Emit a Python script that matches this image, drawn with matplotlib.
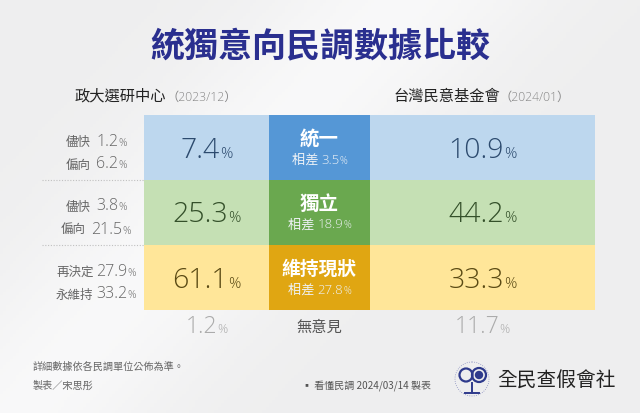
import matplotlib
matplotlib.use("Agg")
import matplotlib.pyplot as plt
from matplotlib import font_manager
import numpy as np
from matplotlib.patches import Rectangle, Circle

plt.rcParams['font.family'] = ['Noto Sans CJK TC', 'DejaVu Sans']

# ---------------- data ----------------
title = "統獨意向民調數據比較"
source_left = "政大選研中心"
date_left = "（2023/12）"
source_right = "台灣民意基金會"
date_right = "（2024/01）"
categories = ["統一", "獨立", "維持現狀"]
left_values = [7.4, 25.3, 61.1]
right_values = [10.9, 44.2, 33.3]
differences = [3.5, 18.9, 27.8]
sub_labels = [["儘快", "偏向"], ["儘快", "偏向"], ["再決定", "永維持"]]
sub_values = [[1.2, 6.2], [3.8, 21.5], [27.9, 33.2]]
no_opinion_label = "無意見"
no_opinion_left = 1.2
no_opinion_right = 11.7
footnote1 = "詳細數據依各民調單位公佈為準。"
footnote2 = "製表／宋思彤"
credit = "▪ 看懂民調 2024/03/14 製表"
org = "全民查假會社"

light_colors = ["#bdd7ee", "#c5e0b4", "#ffe699"]
dark_colors = ["#5597d6", "#6aa84f", "#e0a612"]
value_colors = ["#2c4a6e", "#34502a", "#5a4a14"]

# pick a light-weight font for the numbers if one is installed
light_font = None
light_weight = 'normal'
for fam in ['Noto Sans CJK TC', 'Noto Sans', 'Open Sans', 'Lato', 'Roboto', 'Inter']:
    for f in font_manager.fontManager.ttflist:
        w = f.weight if isinstance(f.weight, int) else font_manager.weight_dict.get(f.weight, 400)
        if f.name == fam and w in (200, 300) and f.style == 'normal':
            light_font = fam
            light_weight = w
            break
    if light_font:
        break
NUM_FAMILY = [light_font, 'Noto Sans CJK TC', 'DejaVu Sans'] if light_font else ['Noto Sans CJK TC', 'DejaVu Sans']

W, H = 640, 413
fig = plt.figure(figsize=(W / 100, H / 100), dpi=100)
ax = fig.add_axes([0, 0, 1, 1])
ax.set_xlim(0, W)
ax.set_ylim(H, 0)
ax.axis('off')

# background gradient
gx = np.linspace(0, 1, 200)
gy = np.linspace(0, 1, 130)
GX, GY = np.meshgrid(gx, gy)
bg = 0.935 + 0.04 * np.exp(-((GX - 0.45) + (GY - 0.3) * 0.6) ** 2 / 0.05)
bg = np.clip(bg, 0, 1)
ax.imshow(np.dstack([bg, bg, bg * 1.003]).clip(0, 1), extent=[0, W, H, 0], zorder=0, aspect='auto')

fig.canvas.draw()
renderer = fig.canvas.get_renderer()


def seg_text(xc, y, segments, ha='center'):
    """segments: list of (text, size, color, weight, is_number)"""
    objs = []
    widths = []
    for s, size, color, wt, num in segments:
        if num:
            t = ax.text(0, y, s, fontsize=size, color=color, va='baseline', ha='left',
                        family=NUM_FAMILY, fontweight=light_weight, zorder=5)
        else:
            t = ax.text(0, y, s, fontsize=size, color=color, va='baseline', ha='left', fontweight=wt, zorder=5)
        bb = t.get_window_extent(renderer=renderer)
        objs.append(t)
        widths.append(bb.width)
    total = sum(widths)
    if ha == 'center':
        x = xc - total / 2
    elif ha == 'right':
        x = xc - total
    else:
        x = xc
    for t, w in zip(objs, widths):
        t.set_x(x)
        x += w
    return objs


# title
ax.text(320, 46, title, fontsize=24.5, fontweight='bold', color='#2a2f8f', ha='center', va='center', zorder=5)

# source headers
seg_text(75, 101, [(source_left, 11, '#222222', 'medium', False), (date_left, 8.8, '#888888', 'normal', True)], ha='left')
seg_text(393, 101, [(source_right, 11, '#222222', 'medium', False), (date_right, 8.8, '#888888', 'normal', True)], ha='left')

# table geometry
x_edges = [144, 269, 370, 595]
top = 115
row_h = 65

for i, cat in enumerate(categories):
    y0 = top + i * row_h
    ax.add_patch(Rectangle((x_edges[0], y0), x_edges[1] - x_edges[0], row_h, color=light_colors[i], zorder=2, lw=0))
    ax.add_patch(Rectangle((x_edges[1], y0), x_edges[2] - x_edges[1], row_h, color=dark_colors[i], zorder=2, lw=0))
    ax.add_patch(Rectangle((x_edges[2], y0), x_edges[3] - x_edges[2], row_h, color=light_colors[i], zorder=2, lw=0))
    yc = y0 + row_h / 2
    # values
    seg_text((x_edges[0] + x_edges[1]) / 2, yc + 10, [(f"{left_values[i]:.1f}", 20.5, value_colors[i], 'normal', True), ("%", 11, value_colors[i], 'normal', True)])
    seg_text((x_edges[2] + x_edges[3]) / 2, yc + 10, [(f"{right_values[i]:.1f}", 20.5, value_colors[i], 'normal', True), ("%", 11, value_colors[i], 'normal', True)])
    # center label
    ax.text((x_edges[1] + x_edges[2]) / 2, yc - 8, cat, fontsize=14 if len(cat) <= 2 else 13.5, fontweight='bold',
            color='white', ha='center', va='center', zorder=5)
    seg_text((x_edges[1] + x_edges[2]) / 2, yc + 16, [("相差 ", 9.5, '#eef2f6', 'normal', False),
                                                      (f"{differences[i]:.1f}", 9.5, '#eef2f6', 'normal', True),
                                                      ("%", 7, '#eef2f6', 'normal', True)])
    # sub labels on the left
    for j in range(2):
        yy = yc - 7 + j * 23 + 5
        lab = sub_labels[i][j]
        seg_text(96, yy, [(lab, 9, '#666666', 'normal', False), ("  " if len(lab) == 2 else " ", 9, '#666666', 'normal', False),
                          (f"{sub_values[i][j]:.1f}", 11.5, '#666666', 'normal', True), ("%", 7.5, '#666666', 'normal', True)])
    if i > 0:
        ax.plot([42, x_edges[0]], [y0, y0], color='#c0c0c0', lw=0.8, ls=(0, (1, 1.5)), zorder=3)

# no opinion row
yb = top + 3 * row_h + 23
seg_text((x_edges[0] + x_edges[1]) / 2, yb, [(f"{no_opinion_left:.1f}", 16.5, '#ababab', 'normal', True), ("%", 9, '#ababab', 'normal', True)])
ax.text((x_edges[1] + x_edges[2]) / 2, yb - 6, no_opinion_label, fontsize=11, color='#555555', ha='center', va='center', zorder=5)
seg_text((x_edges[2] + x_edges[3]) / 2, yb, [(f"{no_opinion_right:.1f}", 16.5, '#ababab', 'normal', True), ("%", 9, '#ababab', 'normal', True)])

# footer
ax.text(33, 367, footnote1, fontsize=7.3, color='#666666', ha='left', va='center', zorder=5)
ax.text(33, 386, footnote2, fontsize=7.3, color='#666666', ha='left', va='center', zorder=5)
ax.text(302, 386, credit, fontsize=7.2, color='#555555', ha='left', va='center', zorder=5)

# logo (simplified)
ax.add_patch(Circle((472, 379), 17, fill=False, ec='#8a8fc0', lw=0.6, ls=':', zorder=5))
ax.add_patch(Circle((466, 375), 6.5, fill=False, ec='#2e3a8c', lw=1.6, zorder=5))
ax.add_patch(Circle((479, 375), 7, fill=False, ec='#2e3a8c', lw=1.6, zorder=5))
ax.add_patch(Circle((479, 375), 3.5, color='#2e3a8c', zorder=5))
ax.plot([472, 472], [383, 393], color='#2e3a8c', lw=1.4, zorder=5)
ax.plot([465, 479], [393, 393], color='#2e3a8c', lw=1.4, zorder=5)
ax.text(497, 381, org, fontsize=14.2, color='#222222', ha='left', va='center', zorder=5)

fig.savefig("out.png", dpi=100)
